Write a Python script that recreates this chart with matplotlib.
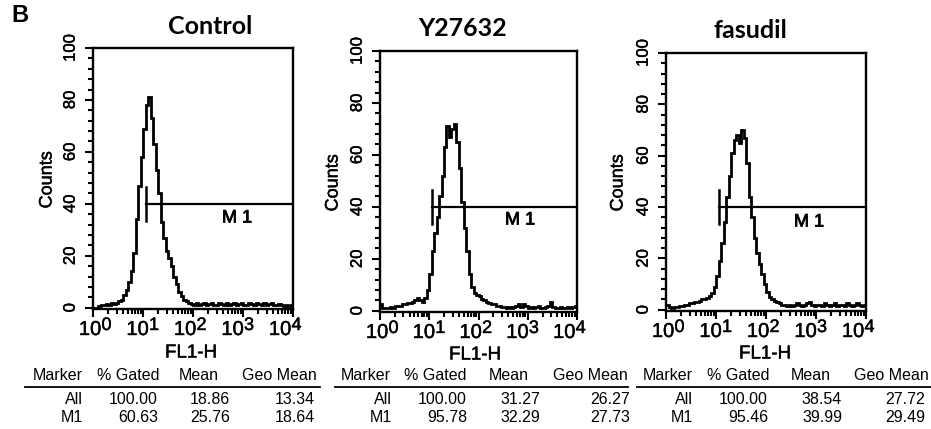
import numpy as np
import matplotlib
matplotlib.use("Agg")
import matplotlib.pyplot as plt
import matplotlib.patheffects as pe
from matplotlib.ticker import FixedLocator, MultipleLocator, NullFormatter

plt.rcParams['font.family'] = ['Liberation Sans', 'DejaVu Sans']

# ---------------- data ----------------
titles = ["Control", "Y27632", "fasudil"]

# histogram counts, 80 bins of 0.05 decade each over FL1-H 10^0 .. 10^4
counts_control = [
    0, 0, 0.5, 1, 1, 1.5, 1, 2, 1.5, 2,
    2.5, 3, 5, 7, 10, 14, 21, 34, 47, 58,
    69, 78, 81, 73, 63, 53, 44, 33, 27, 22,
    19, 16, 12, 9, 6, 4.5, 3, 2.5, 2, 1.5,
    1, 2, 1, 1.5, 2, 1, 1.5, 2, 1, 1,
    2, 1.5, 1, 2, 1, 1.5, 2, 1, 1.5, 2,
    1, 1, 2, 1.5, 1, 2, 1.5, 1, 2, 1,
    1.5, 2, 1, 1, 1.5, 1, 0.5, 1, 0.5, 1,
]
counts_y27632 = [
    2.5, 1, 1, 1, 1.5, 1, 2, 2, 2, 2.5,
    2.5, 3, 3, 3.5, 4, 5, 4, 3.5, 5, 8,
    14, 23, 30, 36, 44, 52, 63, 71, 67, 70,
    72, 65, 55, 42, 32, 23, 14, 9, 7, 6,
    5.5, 4.5, 4, 3.5, 3, 2.5, 2.5, 2, 2, 1.5,
    1.5, 1, 1.5, 1, 1.5, 2, 2.5, 1.5, 2.5, 2,
    1, 1.5, 1, 1.5, 2, 1, 1, 1.5, 2, 3.5,
    1.5, 1, 1, 1.5, 1, 1, 1.5, 1, 1.5, 2,
]
counts_fasudil = [
    2, 1, 0.5, 1, 1, 1.5, 1.5, 2, 2, 2.5,
    2.5, 3, 3, 3.5, 4, 4, 4.5, 5.5, 6.5, 9,
    13, 19, 26, 34, 44, 52, 61, 66, 68, 65,
    70, 67, 57, 44, 36, 28, 22, 18, 14, 10,
    7, 5, 4, 3.5, 3, 2.5, 2, 2, 1.5, 2,
    1.5, 2, 2.5, 2, 1.5, 2, 2.5, 3, 2, 1.5,
    2, 2, 1.5, 2.5, 2, 1.5, 2, 2.5, 1.5, 2,
    2, 1.5, 2.5, 2, 1.5, 2, 2.5, 2, 1.5, 2,
]
histograms = [counts_control, counts_y27632, counts_fasudil]

gate_start = [11.7, 11.2, 11.5]   # M1 gate left edge (FL1-H)
gate_level = 40
gate_label = "M 1"

x_tick_exps = [0, 1, 2, 3, 4]
y_ticks = [0, 20, 40, 60, 80, 100]

table_header = ["Marker", "% Gated", "Mean", "Geo Mean"]
markers = ["All", "M1"]
pct_gated = [[100.00, 60.63], [100.00, 95.78], [100.00, 95.46]]
mean_vals = [[18.86, 25.76], [31.27, 32.29], [38.54, 39.99]]
geo_mean_vals = [[13.34, 18.64], [26.27, 27.73], [27.72, 29.49]]

# ---------------- layout (pixels) ----------------
W, H = 931, 429
fig = plt.figure(figsize=(W / 100, H / 100), dpi=100)
thick = [pe.withStroke(linewidth=0.3, foreground="black")]


def fx(x):
    return x / W


def fy(y):
    return 1 - y / H


boxes = [(93, 48, 293, 309), (380, 51, 577, 312), (666, 53, 866, 311)]
title_pos = [(210, 27), (463, 28), (750, 31)]
counts_pos = [(47, 180), (333, 183), (618, 183)]
xlabel_pos = [(191, 353), (475, 355), (765, 354)]
m1_pos = [(237, 218), (520, 220), (809, 222)]

hdr_centers = [(58, 128, 199, 279), (366, 435, 509, 590), (668, 738, 811, 891)]
val_rights = [(83, 158, 230, 315), (392, 467, 540, 630), (693, 768, 842, 925)]
rule_span = [(25, 320), (335, 628), (637, 931)]
hdr_y, rule_y, row_y = 376, 387, (399, 418)

for k in range(3):
    l, t, r, b = boxes[k]
    ax = fig.add_axes([fx(l), fy(b), (r - l) / W, (b - t) / H])
    counts = histograms[k]
    edges = 10 ** np.linspace(0, 4, len(counts) + 1)
    ax.stairs(counts, edges, baseline=None, color="black", lw=2.0)
    ax.set_xscale("log")
    ax.set_xlim(1, 1e4)
    ax.set_ylim(-0.5, 100)

    # gate marker
    ax.plot([gate_start[k]] * 2, [gate_level - 6.5, gate_level + 6.5], color="black", lw=1.8)
    ax.plot([gate_start[k], 1e4], [gate_level, gate_level], color="black", lw=1.6)

    for s in ax.spines.values():
        s.set_linewidth(1.7)

    ax.xaxis.set_major_locator(FixedLocator([10.0 ** e for e in x_tick_exps]))
    ax.xaxis.set_major_formatter(NullFormatter())
    minors = [m * 10.0 ** e for e in x_tick_exps[:-1] for m in range(2, 10)]
    ax.xaxis.set_minor_locator(FixedLocator(minors))
    ax.xaxis.set_minor_formatter(NullFormatter())
    ax.yaxis.set_major_locator(FixedLocator(y_ticks))
    ax.yaxis.set_minor_locator(MultipleLocator(4))
    ax.tick_params(which="both", direction="out", width=1.5, top=False, right=False)
    ax.tick_params(which="major", length=6)
    ax.tick_params(which="minor", length=3.5)
    ax.tick_params(axis="y", labelsize=12, labelrotation=90, pad=5)
    for lab in ax.get_yticklabels():
        lab.set_va("center")
        lab.set_path_effects(thick)

    # decade labels 10^n (label spacing slightly tighter than the ticks, as in the original)
    for e in x_tick_exps:
        xc = l - 3 + 47.5 * e * (r - l) / 200.0
        fig.text(fx(xc), fy(b + 26), "10", ha="center", va="baseline", fontsize=14.5,
                 path_effects=thick)
        fig.text(fx(xc + 11.5), fy(b + 21), str(e), ha="left", va="baseline", fontsize=13,
                 path_effects=thick)

    fig.text(fx(title_pos[k][0]), fy(title_pos[k][1]), titles[k], ha="center", va="center",
             fontsize=18, fontweight="bold", family=["Lato", "DejaVu Sans"])
    fig.text(fx(counts_pos[k][0]), fy(counts_pos[k][1]), "Counts", rotation=90,
             ha="center", va="center", fontsize=13, path_effects=thick)
    fig.text(fx(xlabel_pos[k][0]), fy(xlabel_pos[k][1]), "FL1-H", ha="center", va="center",
             fontsize=13.5, path_effects=thick)
    fig.text(fx(m1_pos[k][0]), fy(m1_pos[k][1]), gate_label, ha="center", va="center",
             fontsize=13, path_effects=[pe.withStroke(linewidth=0.6, foreground="black")])

    # statistics table
    for c, name in enumerate(table_header):
        fig.text(fx(hdr_centers[k][c]), fy(hdr_y), name, ha="center", va="center", fontsize=11.5)
    x0, x1 = rule_span[k]
    fig.add_artist(plt.Line2D([fx(x0), fx(x1)], [fy(rule_y), fy(rule_y)], color="black", lw=1.3))
    for i, mk in enumerate(markers):
        vals = [mk, "%.2f" % pct_gated[k][i], "%.2f" % mean_vals[k][i], "%.2f" % geo_mean_vals[k][i]]
        for c, v in enumerate(vals):
            fig.text(fx(val_rights[k][c]), fy(row_y[i]), v, ha="right", va="center", fontsize=11.5)

fig.text(fx(20), fy(15), "B", ha="center", va="center", fontsize=17, fontweight="bold")

fig.savefig("out.png", dpi=100)
